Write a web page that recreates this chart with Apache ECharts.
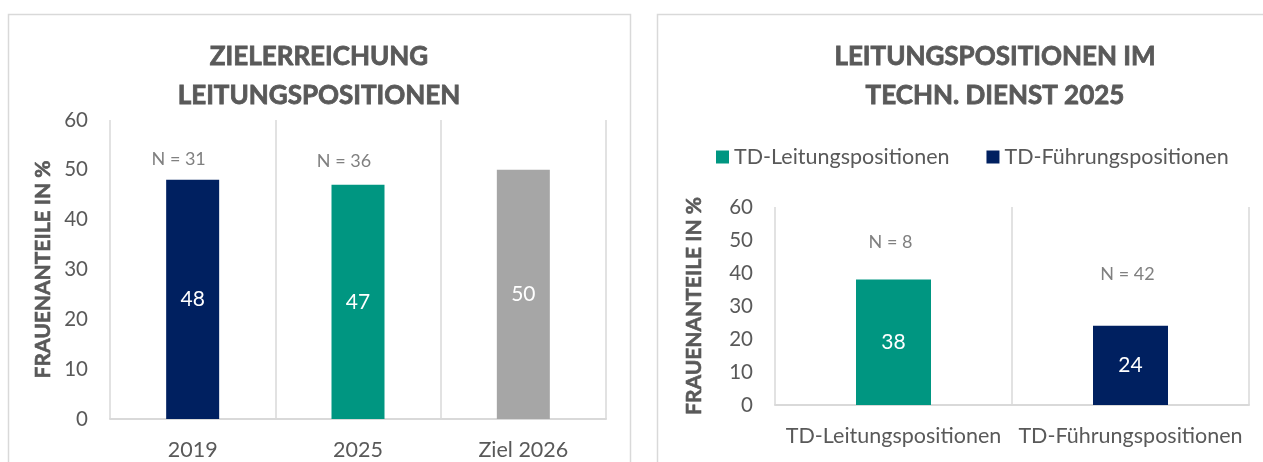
<!DOCTYPE html>
<html>
<head>
<meta charset="utf-8">
<script src="https://cdn.jsdelivr.net/npm/echarts@6/dist/echarts.min.js"></script>
<style>
  html, body { margin: 0; padding: 0; background: #fff; }
  #chart { width: 1263px; height: 462px; }
</style>
</head>
<body>
<div id="chart"></div>
<script>
// Daten links: Zielerreichung
var leftCategories = ['2019', '2025', 'Ziel 2026'];
var leftValues = [48, 47, 50];
var leftN = [31, 36, null];

// Daten rechts: Technischer Dienst 2025
var rightCategories = ['TD-Leitungspositionen', 'TD-Führungspositionen'];
var rightValues = [38, 24];
var rightN = [8, 42];

var yTicks = [0, 60, 10]; // min, max, interval

var NAVY = '#002060', TEAL = '#009681', GREY = '#a6a6a6';
var TXT = '#595959', NTXT = '#808080', GRIDC = '#d9d9d9';
var FONT = 'Lato, "Open Sans", sans-serif';

var leftColors = [NAVY, TEAL, GREY];
var rightColors = [TEAL, NAVY];
// Abstand der N-Beschriftung über den Balken
var leftNGap = [12, 15, 0];
var rightNGap = [28, 43];

var chart = echarts.init(document.getElementById('chart'));

function xAxisCfg(gridIndex, cats) {
    return {
        type: 'category', gridIndex: gridIndex, data: cats,
        axisTick: { show: false },
        axisLine: { lineStyle: { color: GRIDC, width: 2 } },
        splitLine: { show: true, lineStyle: { color: GRIDC, width: 1.5 } },
        axisLabel: { color: TXT, fontSize: 21.5, fontFamily: FONT, margin: 20, interval: 0 }
    };
}
function yAxisCfg(gridIndex, gap) {
    return {
        type: 'value', gridIndex: gridIndex,
        min: yTicks[0], max: yTicks[1], interval: yTicks[2],
        name: 'FRAUENANTEILE IN %', nameLocation: 'middle', nameGap: gap, nameRotate: 90,
        nameTextStyle: { color: TXT, fontSize: 21, fontWeight: 'bold', fontFamily: FONT,
                         textBorderColor: TXT, textBorderWidth: 0.6 },
        axisLine: { show: false }, axisTick: { show: false }, splitLine: { show: false },
        axisLabel: { color: TXT, fontSize: 20.5, fontFamily: FONT, margin: 22 }
    };
}
var valueLabel = { show: true, position: 'inside', color: '#fff', fontSize: 21, fontFamily: FONT };

var series = [];
// links: Werte
series.push({
    type: 'bar', xAxisIndex: 0, yAxisIndex: 0, barWidth: 53, barGap: '-100%',
    data: leftValues.map(function (v, i) { return { value: v, itemStyle: { color: leftColors[i] } }; }),
    label: valueLabel
});
// links: N-Beschriftung
series.push({
    type: 'bar', xAxisIndex: 0, yAxisIndex: 0, barWidth: 53, barGap: '-100%', silent: true,
    itemStyle: { color: 'transparent' },
    data: leftValues.map(function (v, i) {
        return { value: v, label: { distance: leftNGap[i] } };
    }),
    label: {
        show: true, position: 'top', offset: [-14, 0], color: NTXT, fontSize: 18, fontFamily: FONT,
        formatter: function (p) { return leftN[p.dataIndex] == null ? '' : 'N = ' + leftN[p.dataIndex]; }
    }
});
// rechts: je Kategorie eine Serie (für die Legende)
rightCategories.forEach(function (c, k) {
    series.push({
        name: c, type: 'bar', xAxisIndex: 1, yAxisIndex: 1, barWidth: 75, barGap: '-100%',
        itemStyle: { color: rightColors[k] },
        data: rightValues.map(function (v, i) { return i === k ? v : '-'; }),
        label: valueLabel
    });
});
series.push({
    type: 'bar', xAxisIndex: 1, yAxisIndex: 1, barWidth: 75, barGap: '-100%', silent: true,
    itemStyle: { color: 'transparent' },
    data: rightValues.map(function (v, i) { return { value: v, label: { distance: rightNGap[i] } }; }),
    label: {
        show: true, position: 'top', offset: [-3, 0], color: NTXT, fontSize: 18, fontFamily: FONT,
        formatter: function (p) { return 'N = ' + rightN[p.dataIndex]; }
    }
});

var titleStyle = { color: TXT, fontSize: 26, fontWeight: 'bold', fontFamily: FONT, lineHeight: 39,
                   textBorderColor: TXT, textBorderWidth: 0.8 };

chart.setOption({
    backgroundColor: '#fff',
    animation: false,
    graphic: [
        { type: 'rect', shape: { x: 8.5, y: 14.5, width: 622, height: 470 }, style: { fill: 'none', stroke: GRIDC, lineWidth: 1.5 }, silent: true },
        { type: 'rect', shape: { x: 657.5, y: 14.5, width: 700, height: 470 }, style: { fill: 'none', stroke: GRIDC, lineWidth: 1.5 }, silent: true }
    ],
    title: [
        { text: 'ZIELERREICHUNG\nLEITUNGSPOSITIONEN', left: 319, top: 37, textAlign: 'center', padding: 0, textStyle: titleStyle },
        { text: 'LEITUNGSPOSITIONEN IM\nTECHN. DIENST 2025', left: 995, top: 37, textAlign: 'center', padding: 0, textStyle: titleStyle }
    ],
    legend: {
        data: rightCategories, left: 716, top: 146, padding: 0,
        itemWidth: 13, itemHeight: 13, itemGap: 37, icon: 'rect',
        textStyle: { color: TXT, fontSize: 21.5, fontFamily: FONT }
    },
    grid: [
        { left: 110, right: 657, top: 120, bottom: 43, containLabel: false, outerBoundsMode: 'none' },
        { left: 775, right: 14, top: 207, bottom: 57, containLabel: false, outerBoundsMode: 'none' }
    ],
    xAxis: [xAxisCfg(0, leftCategories), xAxisCfg(1, rightCategories)],
    yAxis: [yAxisCfg(0, 56), yAxisCfg(1, 70)],
    series: series
});
</script>
</body>
</html>
